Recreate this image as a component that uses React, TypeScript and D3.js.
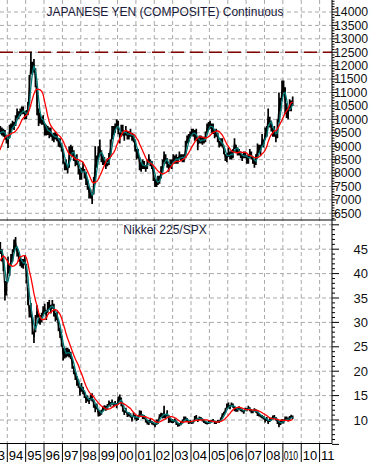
import React from "react";
import * as d3 from "d3";

// Monthly data, first month = Dec 1992, last = Jul 2009 (values read/estimated from the picture)
const FIRST_YEAR = 1992;
const FIRST_MONTH = 11; // December

const yenHigh = [
  8300,
  8250, 8650, 8900, 9250, 9400, 9650, 9650, 9750, 9700, 9650, 9600, 9400,
  9350, 9800, 9850, 9950, 9900, 10150, 10400, 10300, 10400, 10480, 10480, 10300,
  10350, 10650, 11650, 12520, 12150, 12250, 11900, 11250, 10400, 10250, 10100, 10150,
  9850, 9800, 9750, 9700, 9700, 9450, 9500, 9550, 9450, 9300, 9300, 9100,
  8900, 8400, 8500, 8300, 9000, 9050, 9000, 8850, 8600, 8700, 8450, 8150,
  8200, 8400, 8150, 8050, 7750, 7500, 7400, 7250, 7850, 9000, 8650, 9000,
  9250, 8850, 8650, 8600, 8450, 8550, 8750, 9250, 9750, 9750, 9850, 10000,
  9950, 9500, 9800, 9800, 9550, 9750, 9550, 9550, 9650, 9500, 9450, 9250,
  8900, 8900, 8600, 8400, 8500, 8450, 8300, 8500, 8700, 8500, 8450, 8200,
  7800, 7750, 7900, 7900, 8250, 8500, 8800, 8700, 8550, 8350, 8500, 8500,
  8700, 8650, 8700, 8600, 8800, 8700, 8700, 8700, 9200, 9400, 9450, 9550,
  9650, 9650, 9600, 9650, 9300, 9400, 9400, 9350, 9350, 9550, 9850, 9900,
  9950, 9850, 9850, 9600, 9650, 9500, 9200, 9300, 9300, 8950, 8700, 8750,
  8950, 8800, 8850, 8900, 9300, 9050, 8950, 8900, 8800, 8700, 8800, 8800,
  8650, 8700, 8900, 8800, 8600, 8500, 8700, 9100, 9050, 9050, 9450, 9250,
  9700, 9750, 10400, 10100, 9950, 9700, 9750, 9450, 10000, 11000, 10800, 11450,
  11450, 11200, 10600, 10450, 10750, 10700, 10850,
];

const yenLow = [
  8000,
  7980, 8150, 8450, 8750, 9050, 9250, 9200, 9450, 9400, 9350, 9250, 9100,
  8930, 9300, 9500, 9650, 9600, 9750, 10050, 10000, 10120, 10180, 10200, 10000,
  10000, 10150, 10600, 11700, 11650, 11750, 11200, 10150, 9750, 9850, 9800, 9800,
  9400, 9400, 9420, 9300, 9350, 9200, 9150, 9250, 9180, 8980, 8950, 8800,
  8350, 8100, 8100, 7980, 8200, 8700, 8600, 8450, 8250, 8300, 7950, 7750,
  7750, 8050, 7800, 7550, 7380, 7050, 7050, 6850, 7200, 7600, 8200, 8500,
  8650, 8400, 8300, 8300, 8150, 8250, 8300, 8600, 9250, 9400, 9500, 9700,
  9450, 9100, 9350, 9400, 9200, 9400, 9250, 9250, 9350, 9200, 9150, 8800,
  8500, 8550, 8100, 8050, 8150, 8150, 8050, 8150, 8400, 8250, 8150, 7700,
  7480, 7480, 7550, 7600, 7800, 8050, 8400, 8350, 8200, 8050, 8200, 8150,
  8400, 8350, 8350, 8350, 8500, 8450, 8400, 8400, 8550, 9100, 9150, 9300,
  9400, 9350, 9200, 9200, 8850, 9100, 9100, 9050, 9100, 9150, 9500, 9600,
  9650, 9500, 9450, 9300, 9350, 9150, 8950, 9000, 8950, 8700, 8450, 8400,
  8600, 8500, 8500, 8550, 8900, 8750, 8650, 8650, 8550, 8450, 8550, 8550,
  8350, 8350, 8550, 8500, 8350, 8200, 8300, 8550, 8750, 8650, 9000, 8950,
  9250, 9350, 9800, 9700, 9550, 9350, 9350, 9150, 9300, 9900, 10300, 10700,
  11000, 10200, 10050, 10000, 10300, 10300, 10500,
];

const ratioHigh = [
  40,
  39.5, 40, 43, 49, 47.5, 45, 46.5, 46.5, 45, 43.5, 38.5, 38.5,
  43.5, 42, 44, 45, 47, 47.5, 45.5, 44.5, 43.5, 43, 43, 43.8,
  42, 37, 33.5, 34, 31, 28, 31.5, 33.5, 31.8, 31.5, 32, 33.3,
  33.8, 32.5, 34.2, 34.6, 33.6, 34.6, 33.8, 32, 32.2, 30.2, 28.8, 27.3,
  24.8, 24.5, 24.8, 24.8, 24.5, 24, 22.5, 21, 19.8, 19, 18.3, 16.8,
  17.6, 16.8, 15.8, 14.8, 15, 14.5, 15.2, 15.5, 14, 13.2, 13.4, 12,
  11.9, 12.1, 12.8, 13, 12.9, 13.3, 14, 13.7, 14.2, 13.6, 13.9, 13.5,
  14.8, 15.2, 14.6, 13, 12, 12.5, 11.6, 11.6, 11.4, 10.6, 11.6, 11,
  10.6, 10.9, 12, 11.9, 11.1, 11, 10.3, 9.9, 10, 10.2, 9.8, 9.6,
  9.3, 10.1, 10.1, 11.2, 11.5, 11.4, 12.9, 11.2, 12, 11, 10.3, 10.2,
  10.1, 10.3, 9.9, 9.3, 9.4, 9.7, 10.1, 10.7, 10.7, 10.4, 9.9, 10,
  9.8, 9.9, 10.8, 11, 10.4, 10.7, 10.6, 10.3, 10, 9.8, 9.6, 9.8,
  9.9, 10, 10.2, 9.9, 9.8, 10, 9.9, 10.5, 11.4, 11.7, 12.4, 13.4,
  13.6, 13, 13.6, 13.4, 12.8, 12.6, 12.5, 12.8, 12.5, 12.2, 11.9, 12.5,
  12.4, 12.9, 12.6, 12.1, 12, 12.4, 12.2, 11.8, 11.4, 11.1, 11, 10.8,
  10.4, 10.6, 10, 10.4, 10.5, 10.9, 11, 10.6, 10.2, 9.8, 10, 10.2,
  10.1, 10.7, 10.7, 10.5, 10.8, 11.1, 10.9,
];

const ratioLow = [
  38,
  37.5, 38, 39.5, 44, 44.5, 42.5, 44, 44, 42.5, 40.5, 34.5, 35.5,
  40, 39.5, 41.5, 42.5, 44.5, 45, 43.5, 42.5, 41.5, 41.2, 41, 41.8,
  38, 33.5, 31, 31, 27.5, 25.8, 28, 31, 29.8, 29.5, 30, 31.5,
  31.8, 30.5, 32, 32.6, 31.8, 32.8, 31.2, 30.2, 30.5, 28.2, 26.8, 25,
  22.2, 22.6, 22.8, 23, 22.8, 22.5, 20.5, 19.4, 18.2, 17, 16.6, 15,
  15.8, 15.3, 14.5, 13.5, 13.8, 13.3, 14, 13.8, 12.5, 11.6, 12.2, 10.7,
  10.8, 11.1, 11.8, 12, 11.9, 12.3, 13, 12.7, 13.2, 12.6, 12.9, 12.4,
  13.2, 13.9, 12.8, 11.7, 11, 11.5, 10.6, 10.7, 10.5, 9.7, 10.6, 10.1,
  9.8, 10, 10.6, 10.6, 10.2, 10.2, 9.5, 9.1, 9, 9.4, 9.1, 8.9,
  8.5, 9, 9.2, 10.2, 10.6, 10.3, 10.4, 10.1, 10.9, 9.4, 9.5, 9.4,
  9.4, 9.6, 9, 8.6, 8.7, 8.9, 9.3, 9.9, 9.9, 9.7, 9.2, 9.3,
  9.2, 9.3, 9.8, 10.2, 9.6, 10, 10, 9.7, 9.4, 9.2, 9.1, 9.2,
  9.3, 9.5, 9.6, 9.2, 9.2, 9.4, 9.4, 9.8, 10.5, 10.9, 11.5, 12.4,
  12.4, 12.2, 12.8, 12.5, 11.8, 11.7, 11.7, 12, 11.8, 11.6, 11.3, 11.9,
  11.8, 12.1, 11.8, 11.4, 11.4, 11.8, 11.5, 10.8, 10.7, 10.5, 10.3, 10.1,
  9.5, 9.8, 9.2, 9.6, 9.9, 10.1, 10.2, 9.9, 9.2, 8.5, 9, 9.3,
  9.3, 9.8, 9.8, 9.7, 10, 10.4, 10.2,
];

const yearStarts = [1993, 1994, 1995, 1996, 1997, 1998, 1999, 2000, 2001, 2002, 2003, 2004, 2005, 2006, 2007, 2008, 2009, 2010, 2011];
const yearLabels = ["93", "94", "95", "96", "97", "98", "99", "00", "01", "02", "03", "04", "05", "06", "07", "08", "010", "10", "11"];
const yenTickValues = [6500, 7000, 7500, 8000, 8500, 9000, 9500, 10000, 10500, 11000, 11500, 12000, 12500, 13000, 13500, 14000];
const ratioTickValues = [10, 15, 20, 25, 30, 35, 40, 45];
const ratioGridValues = [10, 15, 20, 25, 30, 35, 40, 45, 50];
const yenReference = 12500;
const shortWindow = 3; // months
const longWindow = 9; // months

const topTitle = "JAPANESE YEN (COMPOSITE) Continuous";
const bottomTitle = "Nikkei 225/SPX";

const FONT = "'Liberation Sans', Arial, Helvetica, sans-serif";
const W = 371;
const H = 462;
const AXIS_X = 332;
const DIVIDER_Y = 220;
const BOTTOM_Y = 443.5;
const TEAL = "#007a78";
const RED = "#ff0000";
const GRID = "#a9a9a9";

const x = d3.scaleTime().domain([new Date(1994, 0, 1), new Date(2011, 0, 1)]).range([7.3, 319.6]);
const yTop = d3.scaleLinear().domain([6500, 14000]).range([213.3, 12]);
const yBot = d3.scaleLinear().domain([10, 45]).range([420, 249.2]);

const dates = yenHigh.map((_, i) => new Date(FIRST_YEAR, FIRST_MONTH + i, 15));

function movingAverage(values: number[], n: number): number[] {
  return values.map((_, i) => d3.mean(values.slice(Math.max(0, i - n + 1), i + 1)) as number);
}

function barsPath(hi: number[], lo: number[], y: (v: number) => number): string {
  return hi.map((h, i) => `M${x(dates[i])},${y(h)}V${y(lo[i])}`).join("");
}

function linePath(vals: number[], y: (v: number) => number): string {
  const gen = d3
    .line<number>()
    .x((_, i) => x(dates[i]))
    .y((v) => y(v));
  return gen(vals) || "";
}

const yenMid = yenHigh.map((h, i) => (h + yenLow[i]) / 2);
const ratioMid = ratioHigh.map((h, i) => (h + ratioLow[i]) / 2);

export default function App() {
  const yenShort = movingAverage(yenMid, shortWindow);
  const yenLong = movingAverage(yenMid, longWindow);
  const ratioShort = movingAverage(ratioMid, shortWindow);
  const ratioLong = movingAverage(ratioMid, longWindow);

  const topMinor = d3.range(6300, 14500, 100).filter((v) => yTop(v) >= 0 && yTop(v) <= DIVIDER_Y);
  const botMinor = d3.range(5, 51, 1).filter((v) => yBot(v) >= DIVIDER_Y && yBot(v) <= BOTTOM_Y + 1.5);

  return (
    <svg
      width={W}
      height={H}
      viewBox={`0 0 ${W} ${H}`}
      style={{ position: "absolute", left: 0, top: 0, background: "#fff" }}
      fontFamily={FONT}
    >
      <defs>
        <clipPath id="clipTop">
          <rect x={0} y={0} width={AXIS_X} height={DIVIDER_Y} />
        </clipPath>
        <clipPath id="clipBot">
          <rect x={0} y={DIVIDER_Y} width={AXIS_X} height={BOTTOM_Y - DIVIDER_Y} />
        </clipPath>
      </defs>
      <rect x={0} y={0} width={W} height={H} fill="#fff" />

      {/* vertical grid */}
      {yearStarts
        .filter((yr) => yr >= 1994)
        .map((yr) => (
          <line
            key={"vg" + yr}
            x1={x(new Date(yr, 0, 1))}
            x2={x(new Date(yr, 0, 1))}
            y1={0}
            y2={BOTTOM_Y}
            stroke={GRID}
            strokeDasharray="4,3"
            strokeWidth={1}
          />
        ))}
      {/* horizontal grid top */}
      {yenTickValues.map((v) => (
        <line key={"hg" + v} x1={0} x2={AXIS_X} y1={yTop(v)} y2={yTop(v)} stroke={GRID} strokeDasharray="4,3" strokeWidth={1} />
      ))}
      {/* horizontal grid bottom */}
      {ratioGridValues.map((v) => (
        <line key={"hb" + v} x1={0} x2={AXIS_X} y1={yBot(v)} y2={yBot(v)} stroke={GRID} strokeDasharray="4,3" strokeWidth={1} />
      ))}

      {/* reference line */}
      <line
        x1={0}
        x2={AXIS_X}
        y1={yTop(yenReference)}
        y2={yTop(yenReference)}
        stroke="#800000"
        strokeWidth={1.3}
        strokeDasharray="13,6"
      />

      {/* top panel series */}
      <g clipPath="url(#clipTop)">
        <path d={barsPath(yenHigh, yenLow, yTop)} stroke="#000" strokeWidth={1.7} fill="none" />
        <path d={linePath(yenMid, yTop)} stroke="#000" strokeWidth={1.2} fill="none" />
        <path d={linePath(yenShort, yTop)} stroke={TEAL} strokeWidth={1.3} fill="none" />
        <path d={linePath(yenLong, yTop)} stroke={RED} strokeWidth={1.3} fill="none" />
      </g>

      {/* bottom panel series */}
      <g clipPath="url(#clipBot)">
        <path d={barsPath(ratioHigh, ratioLow, yBot)} stroke="#000" strokeWidth={1.7} fill="none" />
        <path d={linePath(ratioMid, yBot)} stroke="#000" strokeWidth={1.2} fill="none" />
        <path d={linePath(ratioShort, yBot)} stroke={TEAL} strokeWidth={1.3} fill="none" />
        <path d={linePath(ratioLong, yBot)} stroke={RED} strokeWidth={1.3} fill="none" />
      </g>

      {/* titles */}
      <text x={165} y={15.5} fontSize={12} textAnchor="middle" fill="#1a1a3a">
        {topTitle}
      </text>
      <text x={165} y={234} fontSize={12} textAnchor="middle" fill="#1a1a3a">
        {bottomTitle}
      </text>

      {/* frame lines */}
      <line x1={0} x2={336} y1={DIVIDER_Y} y2={DIVIDER_Y} stroke="#000" strokeWidth={1} />
      <line x1={0} x2={AXIS_X} y1={BOTTOM_Y} y2={BOTTOM_Y} stroke="#000" strokeWidth={1} />
      <line x1={AXIS_X} x2={AXIS_X} y1={0} y2={BOTTOM_Y} stroke="#000" strokeWidth={1} />

      {/* right axis ticks */}
      {topMinor.map((v) => (
        <line
          key={"tt" + v}
          x1={AXIS_X}
          x2={AXIS_X + (v % 500 === 0 ? 5 : 2.5)}
          y1={yTop(v)}
          y2={yTop(v)}
          stroke="#000"
          strokeWidth={1}
        />
      ))}
      {botMinor.map((v) => (
        <line
          key={"bt" + v}
          x1={AXIS_X}
          x2={AXIS_X + (v % 5 === 0 ? 7 : 3)}
          y1={yBot(v)}
          y2={yBot(v)}
          stroke="#000"
          strokeWidth={1}
        />
      ))}
      {yenTickValues.map((v) => (
        <text key={"tl" + v} x={AXIS_X + 2} y={yTop(v)} dy="0.35em" fontSize={12.3} fill="#111">
          {v}
        </text>
      ))}
      {ratioTickValues.map((v) => (
        <text key={"bl" + v} x={368} y={yBot(v)} dy="0.35em" fontSize={13} textAnchor="end" fill="#111">
          {v}
        </text>
      ))}

      {/* year separators and labels */}
      {yearStarts.map((yr, i) => {
        const xx = x(new Date(yr, 0, 1));
        return (
          <g key={"yr" + yr}>
            <line x1={xx} x2={xx} y1={BOTTOM_Y} y2={H} stroke="#000" strokeWidth={1} />
            {yearLabels[i].length > 2 ? (
              <text x={xx + 0.8} y={460} fontSize={12} fill="#000" textLength={14.5} lengthAdjust="spacingAndGlyphs">
                {yearLabels[i]}
              </text>
            ) : (
              <text x={xx + 1.5} y={460} fontSize={13} fill="#000">
                {yearLabels[i]}
              </text>
            )}
          </g>
        );
      })}
    </svg>
  );
}
